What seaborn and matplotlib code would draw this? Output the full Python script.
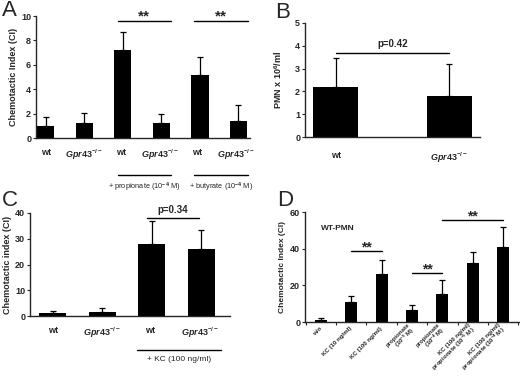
import numpy as np
import pandas as pd
import seaborn as sns
import matplotlib.pyplot as plt
import matplotlib.transforms as mtrans

sns.set_style("ticks")
plt.rcParams['font.family'] = ['Liberation Sans', 'DejaVu Sans']
plt.rcParams['mathtext.fontset'] = 'custom'
plt.rcParams['mathtext.rm'] = 'Liberation Sans:bold'
plt.rcParams['mathtext.it'] = 'Liberation Sans:italic:bold'

KO = r"$\it{Gpr43}^{-/-}$"

# Panel A
a_labels = ["wt", KO, "wt ", KO + " ", "wt  ", KO + "  "]
a_mean = [1.0, 1.2, 7.2, 1.2, 5.2, 1.4]
a_err = [0.75, 0.85, 1.5, 0.8, 1.45, 1.3]

# Panel B
b_labels = ["wt", KO]
b_mean = [2.2, 1.82]
b_err = [1.28, 1.38]

# Panel C
c_labels = ["wt", KO, "wt ", KO + " "]
c_mean = [1.0, 1.5, 28.0, 26.0]
c_err = [0.8, 1.8, 9.0, 7.5]

# Panel D
d_labels = ["w/o", "KC (10 ng/ml)", "KC (100 ng/ml)",
            "propionate\n(10$^{-5}$ M)", "propionate\n(10$^{-4}$ M)",
            "KC (100 ng/ml)\npropionate (10$^{-5}$ M)",
            "KC (100 ng/ml)\npropionate (10$^{-4}$ M)"]
d_mean = [1.0, 11.0, 26.0, 6.5, 15.5, 32.0, 41.0]
d_err = [1.0, 3.0, 8.0, 3.0, 7.5, 6.0, 11.0]

W, H = 520, 376
fig = plt.figure(figsize=(W / 100, H / 100), dpi=100)


def box(l, r, t, b):
    return [l / W, (H - b) / H, (r - l) / W, (b - t) / H]


def bars(ax, labels, mean, err, width):
    df = pd.DataFrame({"g": labels, "v": mean})
    sns.barplot(data=df, x="g", y="v", color="black", width=width, ax=ax,
                errorbar=None, saturation=1, linewidth=0)
    x = np.arange(len(labels))
    ax.errorbar(x, mean, yerr=[np.zeros(len(err)), err], fmt="none",
                ecolor="black", elinewidth=0.9, capsize=2, capthick=0.9)
    ax.set_xlabel("")
    sns.despine(ax=ax)
    for s in ["left", "bottom"]:
        ax.spines[s].set_linewidth(1)
    ax.tick_params(axis="y", labelsize=6.5, length=2.5, width=0.8, pad=1)
    ax.tick_params(axis="x", length=0, labelsize=6.5)
    for t in ax.get_yticklabels():
        t.set_fontweight("bold")
    for t in ax.get_xticklabels():
        t.set_fontweight("bold")


def sig(ax, x0, x1, y, text, dy, fs=9):
    ax.plot([x0, x1], [y, y], color="black", lw=1, clip_on=False)
    ax.text((x0 + x1) / 2, y + dy, text, ha="center", va="bottom",
            fontsize=fs, fontweight="bold", clip_on=False)


# ---- A
axA = fig.add_axes(box(36, 250, 16, 138))
bars(axA, a_labels, a_mean, a_err, 0.45)
axA.set_ylim(0, 10)
axA.set_xlim(-0.25, 5.3)
axA.set_yticks([0, 2, 4, 6, 8, 10])
axA.set_ylabel("Chemotactic Index (CI)", fontsize=6.5, fontweight="bold", labelpad=2)
axA.tick_params(axis="x", pad=7)
sig(axA, 1.87, 3.25, 9.6, "**", -0.2, 11)
sig(axA, 3.85, 5.25, 9.6, "**", -0.2, 11)
trA = mtrans.blended_transform_factory(axA.transData, axA.transAxes)
for x0, x1, txt in [(1.87, 3.25, "+ propionate (10$^{-4}$ M)"),
                    (3.85, 5.25, "+ butyrate (10$^{-4}$ M)")]:
    axA.plot([x0, x1], [-0.30, -0.30], color="black", lw=1, transform=trA, clip_on=False)
    axA.text((x0 + x1) / 2, -0.35, txt, transform=trA, ha="center", va="top",
             fontsize=5.3)

# ---- B
axB = fig.add_axes(box(305, 480, 23, 137))
bars(axB, b_labels, b_mean, b_err, 0.4)
axB.set_ylim(0, 5)
axB.set_ylabel("PMN x 10$^{6}$/ml", fontsize=6.5, fontweight="bold", labelpad=8)
axB.tick_params(axis="x", pad=10)
sig(axB, 0, 1, 3.7, "p=0.42", 0.15, 7)

# ---- C
axC = fig.add_axes(box(30, 230, 213, 316))
bars(axC, c_labels, c_mean, c_err, 0.55)
axC.set_ylim(0, 40)
axC.set_yticks([0, 10, 20, 30, 40])
axC.set_ylabel("Chemotactic index (CI)", fontsize=6.5, fontweight="bold", labelpad=2)
axC.tick_params(axis="x", pad=7)
sig(axC, 1.9, 2.95, 38, "p=0.34", 1.2, 7)
trC = mtrans.blended_transform_factory(axC.transData, axC.transAxes)
axC.plot([1.7, 3.4], [-0.33, -0.33], color="black", lw=1, transform=trC, clip_on=False)
axC.text(2.55, -0.39, "+ KC (100 ng/ml)", transform=trC, ha="center", va="top",
         fontsize=6)

# ---- D
axD = fig.add_axes(box(305, 519, 212, 322))
bars(axD, d_labels, d_mean, d_err, 0.4)
axD.set_ylim(0, 60)
axD.set_yticks([0, 20, 40, 60])
axD.set_ylabel("Chemotactic Index (CI)", fontsize=6, fontweight="bold", labelpad=3)
axD.set_xticks(np.arange(len(d_labels)))
axD.set_xticklabels(d_labels, rotation=45, ha="right", va="center",
                    rotation_mode="anchor", fontsize=4.4, fontweight="bold",
                    linespacing=0.85)
axD.set_xticks(np.arange(len(d_labels) + 1) - 0.5, minor=True)
axD.tick_params(axis="x", which="minor", length=2.5, width=0.8)
axD.tick_params(axis="x", which="major", pad=4)
axD.text(0.55, 50, "WT-PMN", fontsize=6, fontweight="bold", ha="center")
sig(axD, 1, 2, 38.5, "**", -1.5, 10)
sig(axD, 3, 4, 26.5, "**", -1.5, 10)
sig(axD, 4, 6, 55.5, "**", -1.5, 10)

# panel letters
for x, y, s in [(2, 0, "A"), (275, 2, "B"), (2, 190, "C"), (277, 190, "D")]:
    fig.text(x / W, 1 - y / H, s, fontsize=16, va="top", ha="left")

fig.savefig("out.png", dpi=100)
